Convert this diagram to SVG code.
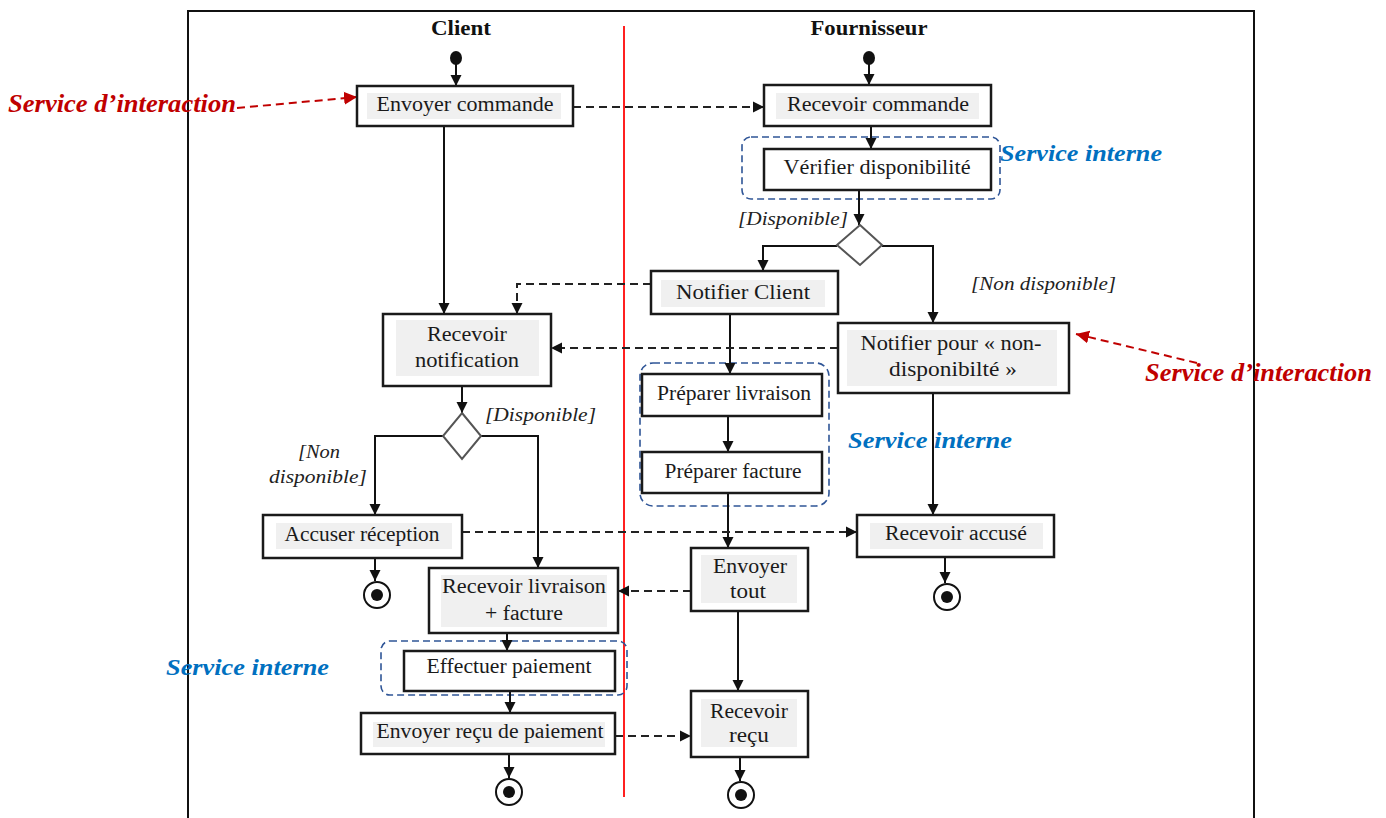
<svg xmlns="http://www.w3.org/2000/svg" width="1386" height="818" viewBox="0 0 1386 818">
  <defs>
    <marker id="arrow" markerUnits="userSpaceOnUse" markerWidth="12" markerHeight="12" refX="11" refY="6" orient="auto">
      <path d="M0,0.5 L11,6 L0,11.5 Z" fill="#111"/>
    </marker>
    <marker id="arrowRed" markerUnits="userSpaceOnUse" markerWidth="14" markerHeight="14" refX="13" refY="7" orient="auto">
      <path d="M0,0.5 L13,7 L0,13.5 Z" fill="#c00000"/>
    </marker>
    <style>
      .box { fill: #fff; stroke: #1a1a1a; stroke-width: 2.5; }
      .shade { fill: #f0f0f0; }
      .lbl { font-family: "Liberation Serif", "Times New Roman", serif; font-size: 20px; fill: #1a1a1a; text-anchor: middle; }
      .lane { font-family: "Liberation Serif", "Times New Roman", serif; font-size: 20px; font-weight: bold; fill: #111; text-anchor: middle; }
      .guard { font-family: "Liberation Serif", "Times New Roman", serif; font-size: 18px; font-style: italic; fill: #222; }
      .svcInt { font-family: "Liberation Serif", "Times New Roman", serif; font-size: 24px; font-weight: bold; font-style: italic; fill: #0070c0; }
      .svcAct { font-family: "Liberation Serif", "Times New Roman", serif; font-size: 25px; font-weight: bold; font-style: italic; fill: #c00000; }
      .flow { fill: none; stroke: #111; stroke-width: 2; marker-end: url(#arrow); }
      .msg { fill: none; stroke: #222; stroke-width: 2; stroke-dasharray: 8 5; marker-end: url(#arrow); }
      .note { fill: none; stroke: #c00000; stroke-width: 2; stroke-dasharray: 8 5; marker-end: url(#arrowRed); }
      .group { fill: none; stroke: #2f5597; stroke-width: 1.6; stroke-dasharray: 7 4; }
      .decision { fill: #fff; stroke: #555; stroke-width: 2; }
      .endOuter { fill: #fff; stroke: #111; stroke-width: 2; }
    </style>
  </defs>

  <!-- frame and swimlane separator -->
  <g id="frame">
    <path d="M188,830 L188,11 L1254,11 L1254,830" fill="none" stroke="#111" stroke-width="2"/>
    <line x1="624" y1="26" x2="624" y2="797" stroke="#ff2020" stroke-width="2"/>
    <text class="lane" x="461" y="35" textLength="60" lengthAdjust="spacingAndGlyphs">Client</text>
    <text class="lane" x="869" y="35" textLength="117" lengthAdjust="spacingAndGlyphs">Fournisseur</text>
  </g>

  <!-- service groupings -->
  <g id="groups">
    <rect class="group" x="742" y="137" width="258" height="62" rx="9"/>
    <rect class="group" x="640" y="363" width="189" height="143" rx="13"/>
    <rect class="group" x="381" y="641" width="246" height="54" rx="9"/>
  </g>

  <!-- connectors -->
  <g id="connectors">
    <path class="flow" d="M456,64 L456,86"/>
    <path class="flow" d="M869,64 L869,85"/>
    <path class="flow" d="M444,126 L444,314"/>
    <path class="flow" d="M871,126 L871,149"/>
    <path class="flow" d="M859,190 L859,225"/>
    <path class="flow" d="M837,246 L763,246 L763,271"/>
    <path class="flow" d="M882,246 L933,246 L933,323"/>
    <path class="flow" d="M730,314 L730,374"/>
    <path class="flow" d="M728,416 L728,452"/>
    <path class="flow" d="M728,493 L728,548"/>
    <path class="flow" d="M933,393 L933,515"/>
    <path class="flow" d="M945,557 L945,583"/>
    <path class="flow" d="M738,611 L738,691"/>
    <path class="flow" d="M740,757 L740,781"/>
    <path class="flow" d="M462,386 L462,413"/>
    <path class="flow" d="M443,436 L375,436 L375,515"/>
    <path class="flow" d="M481,436 L538,436 L538,568"/>
    <path class="flow" d="M375,558 L375,581"/>
    <path class="flow" d="M507,633 L507,651"/>
    <path class="flow" d="M510,691 L510,713"/>
    <path class="flow" d="M509,754 L509,778"/>

    <path class="msg" d="M573,107 L764,107"/>
    <path class="msg" d="M651,284 L517,284 L517,314"/>
    <path class="msg" d="M838,348 L551,348"/>
    <path class="msg" d="M462,532 L857,532" stroke="#555"/>
    <path class="msg" d="M691,591 L618,591" stroke="#555"/>
    <path class="msg" d="M615,736 L691,736"/>

    <path class="note" d="M237,108 L357,97"/>
    <path class="note" d="M1197,363 L1076,334"/>
  </g>

  <!-- start nodes -->
  <g id="start-client">
    <ellipse cx="456" cy="58" rx="6" ry="7" fill="#111"/>
  </g>
  <g id="start-fournisseur">
    <ellipse cx="869" cy="58" rx="6" ry="7" fill="#111"/>
  </g>

  <!-- activities -->
  <g id="envoyer-commande">
    <rect class="box" x="357" y="86" width="216" height="40"/>
    <rect class="shade" x="367" y="93" width="194" height="26"/>
    <text class="lbl" x="465" y="111" textLength="177" lengthAdjust="spacingAndGlyphs">Envoyer commande</text>
  </g>
  <g id="recevoir-commande">
    <rect class="box" x="764" y="85" width="227" height="41"/>
    <rect class="shade" x="776" y="93" width="203" height="26"/>
    <text class="lbl" x="878" y="111" textLength="182" lengthAdjust="spacingAndGlyphs">Recevoir commande</text>
  </g>
  <g id="verifier-disponibilite">
    <rect class="box" x="764" y="149" width="227" height="41"/>
    <text class="lbl" x="877" y="174" textLength="187" lengthAdjust="spacingAndGlyphs">Vérifier disponibilité</text>
  </g>
  <g id="notifier-client">
    <rect class="box" x="651" y="271" width="187" height="43"/>
    <rect class="shade" x="661" y="280" width="164" height="27"/>
    <text class="lbl" x="743" y="299" textLength="134" lengthAdjust="spacingAndGlyphs">Notifier Client</text>
  </g>
  <g id="recevoir-notification">
    <rect class="box" x="383" y="314" width="168" height="72"/>
    <rect class="shade" x="396" y="320" width="143" height="56"/>
    <text class="lbl" x="467" y="341" textLength="80" lengthAdjust="spacingAndGlyphs">Recevoir</text>
    <text class="lbl" x="467" y="367" textLength="104" lengthAdjust="spacingAndGlyphs">notification</text>
  </g>
  <g id="notifier-non-disponibilite">
    <rect class="box" x="838" y="323" width="231" height="70"/>
    <rect class="shade" x="847" y="330" width="210" height="56"/>
    <text class="lbl" x="951" y="350" textLength="181" lengthAdjust="spacingAndGlyphs">Notifier pour « non-</text>
    <text class="lbl" x="953" y="376" textLength="128" lengthAdjust="spacingAndGlyphs">disponibilté »</text>
  </g>
  <g id="preparer-livraison">
    <rect class="box" x="642" y="374" width="180" height="42"/>
    <text class="lbl" x="734" y="400" textLength="154" lengthAdjust="spacingAndGlyphs">Préparer livraison</text>
  </g>
  <g id="preparer-facture">
    <rect class="box" x="642" y="452" width="180" height="41"/>
    <text class="lbl" x="733" y="478" textLength="137" lengthAdjust="spacingAndGlyphs">Préparer facture</text>
  </g>
  <g id="accuser-reception">
    <rect class="box" x="263" y="515" width="199" height="43"/>
    <rect class="shade" x="276" y="523" width="176" height="26"/>
    <text class="lbl" x="362" y="541" textLength="155" lengthAdjust="spacingAndGlyphs">Accuser réception</text>
  </g>
  <g id="recevoir-accuse">
    <rect class="box" x="857" y="515" width="197" height="42"/>
    <rect class="shade" x="870" y="523" width="173" height="26"/>
    <text class="lbl" x="956" y="540" textLength="142" lengthAdjust="spacingAndGlyphs">Recevoir accusé</text>
  </g>
  <g id="recevoir-livraison">
    <rect class="box" x="429" y="568" width="189" height="65"/>
    <rect class="shade" x="441" y="575" width="166" height="52"/>
    <text class="lbl" x="524" y="593" textLength="164" lengthAdjust="spacingAndGlyphs">Recevoir livraison</text>
    <text class="lbl" x="524" y="620" textLength="78" lengthAdjust="spacingAndGlyphs">+ facture</text>
  </g>
  <g id="envoyer-tout">
    <rect class="box" x="691" y="548" width="117" height="63"/>
    <rect class="shade" x="701" y="555" width="96" height="48"/>
    <text class="lbl" x="750" y="573" textLength="74" lengthAdjust="spacingAndGlyphs">Envoyer</text>
    <text class="lbl" x="748" y="598" textLength="36" lengthAdjust="spacingAndGlyphs">tout</text>
  </g>
  <g id="effectuer-paiement">
    <rect class="box" x="404" y="651" width="211" height="40"/>
    <text class="lbl" x="509" y="673" textLength="165" lengthAdjust="spacingAndGlyphs">Effectuer paiement</text>
  </g>
  <g id="envoyer-recu">
    <rect class="box" x="361" y="713" width="254" height="41"/>
    <rect class="shade" x="373" y="722" width="232" height="25"/>
    <text class="lbl" x="490" y="738" textLength="227" lengthAdjust="spacingAndGlyphs">Envoyer reçu de paiement</text>
  </g>
  <g id="recevoir-recu">
    <rect class="box" x="691" y="691" width="117" height="66"/>
    <rect class="shade" x="701" y="699" width="96" height="48"/>
    <text class="lbl" x="749" y="718" textLength="78" lengthAdjust="spacingAndGlyphs">Recevoir</text>
    <text class="lbl" x="749" y="742" textLength="40" lengthAdjust="spacingAndGlyphs">reçu</text>
  </g>

  <!-- decisions -->
  <g id="decision-fournisseur">
    <polygon class="decision" points="860,225 882,245 860,265 837,245"/>
  </g>
  <g id="decision-client">
    <polygon class="decision" points="462,413 481,436 462,459 443,436"/>
  </g>

  <!-- final nodes -->
  <g id="end-accuser">
    <circle class="endOuter" cx="377" cy="595" r="13"/>
    <circle cx="377" cy="595" r="6" fill="#111"/>
  </g>
  <g id="end-paiement">
    <circle class="endOuter" cx="509" cy="792" r="13"/>
    <circle cx="509" cy="792" r="6" fill="#111"/>
  </g>
  <g id="end-recu">
    <circle class="endOuter" cx="741" cy="795" r="13"/>
    <circle cx="741" cy="795" r="6" fill="#111"/>
  </g>
  <g id="end-accuse">
    <circle class="endOuter" cx="947" cy="597" r="13"/>
    <circle cx="947" cy="597" r="6" fill="#111"/>
  </g>

  <!-- guard labels -->
  <g id="guards">
    <text class="guard" x="738" y="225" textLength="110" lengthAdjust="spacingAndGlyphs">[Disponible]</text>
    <text class="guard" x="971" y="290" textLength="145" lengthAdjust="spacingAndGlyphs">[Non disponible]</text>
    <text class="guard" x="485" y="421" textLength="111" lengthAdjust="spacingAndGlyphs">[Disponible]</text>
    <text class="guard" x="298" y="458" textLength="42" lengthAdjust="spacingAndGlyphs">[Non</text>
    <text class="guard" x="269" y="483" textLength="98" lengthAdjust="spacingAndGlyphs">disponible]</text>
  </g>

  <!-- service annotations -->
  <g id="annotations">
    <text class="svcAct" x="8" y="112" textLength="228" lengthAdjust="spacingAndGlyphs">Service d’interaction</text>
    <text class="svcAct" x="1145" y="381" textLength="227" lengthAdjust="spacingAndGlyphs">Service d’interaction</text>
    <text class="svcInt" x="1000" y="161" textLength="162" lengthAdjust="spacingAndGlyphs">Service interne</text>
    <text class="svcInt" x="848" y="448" textLength="164" lengthAdjust="spacingAndGlyphs">Service interne</text>
    <text class="svcInt" x="166" y="675" textLength="163" lengthAdjust="spacingAndGlyphs">Service interne</text>
  </g>
</svg>
